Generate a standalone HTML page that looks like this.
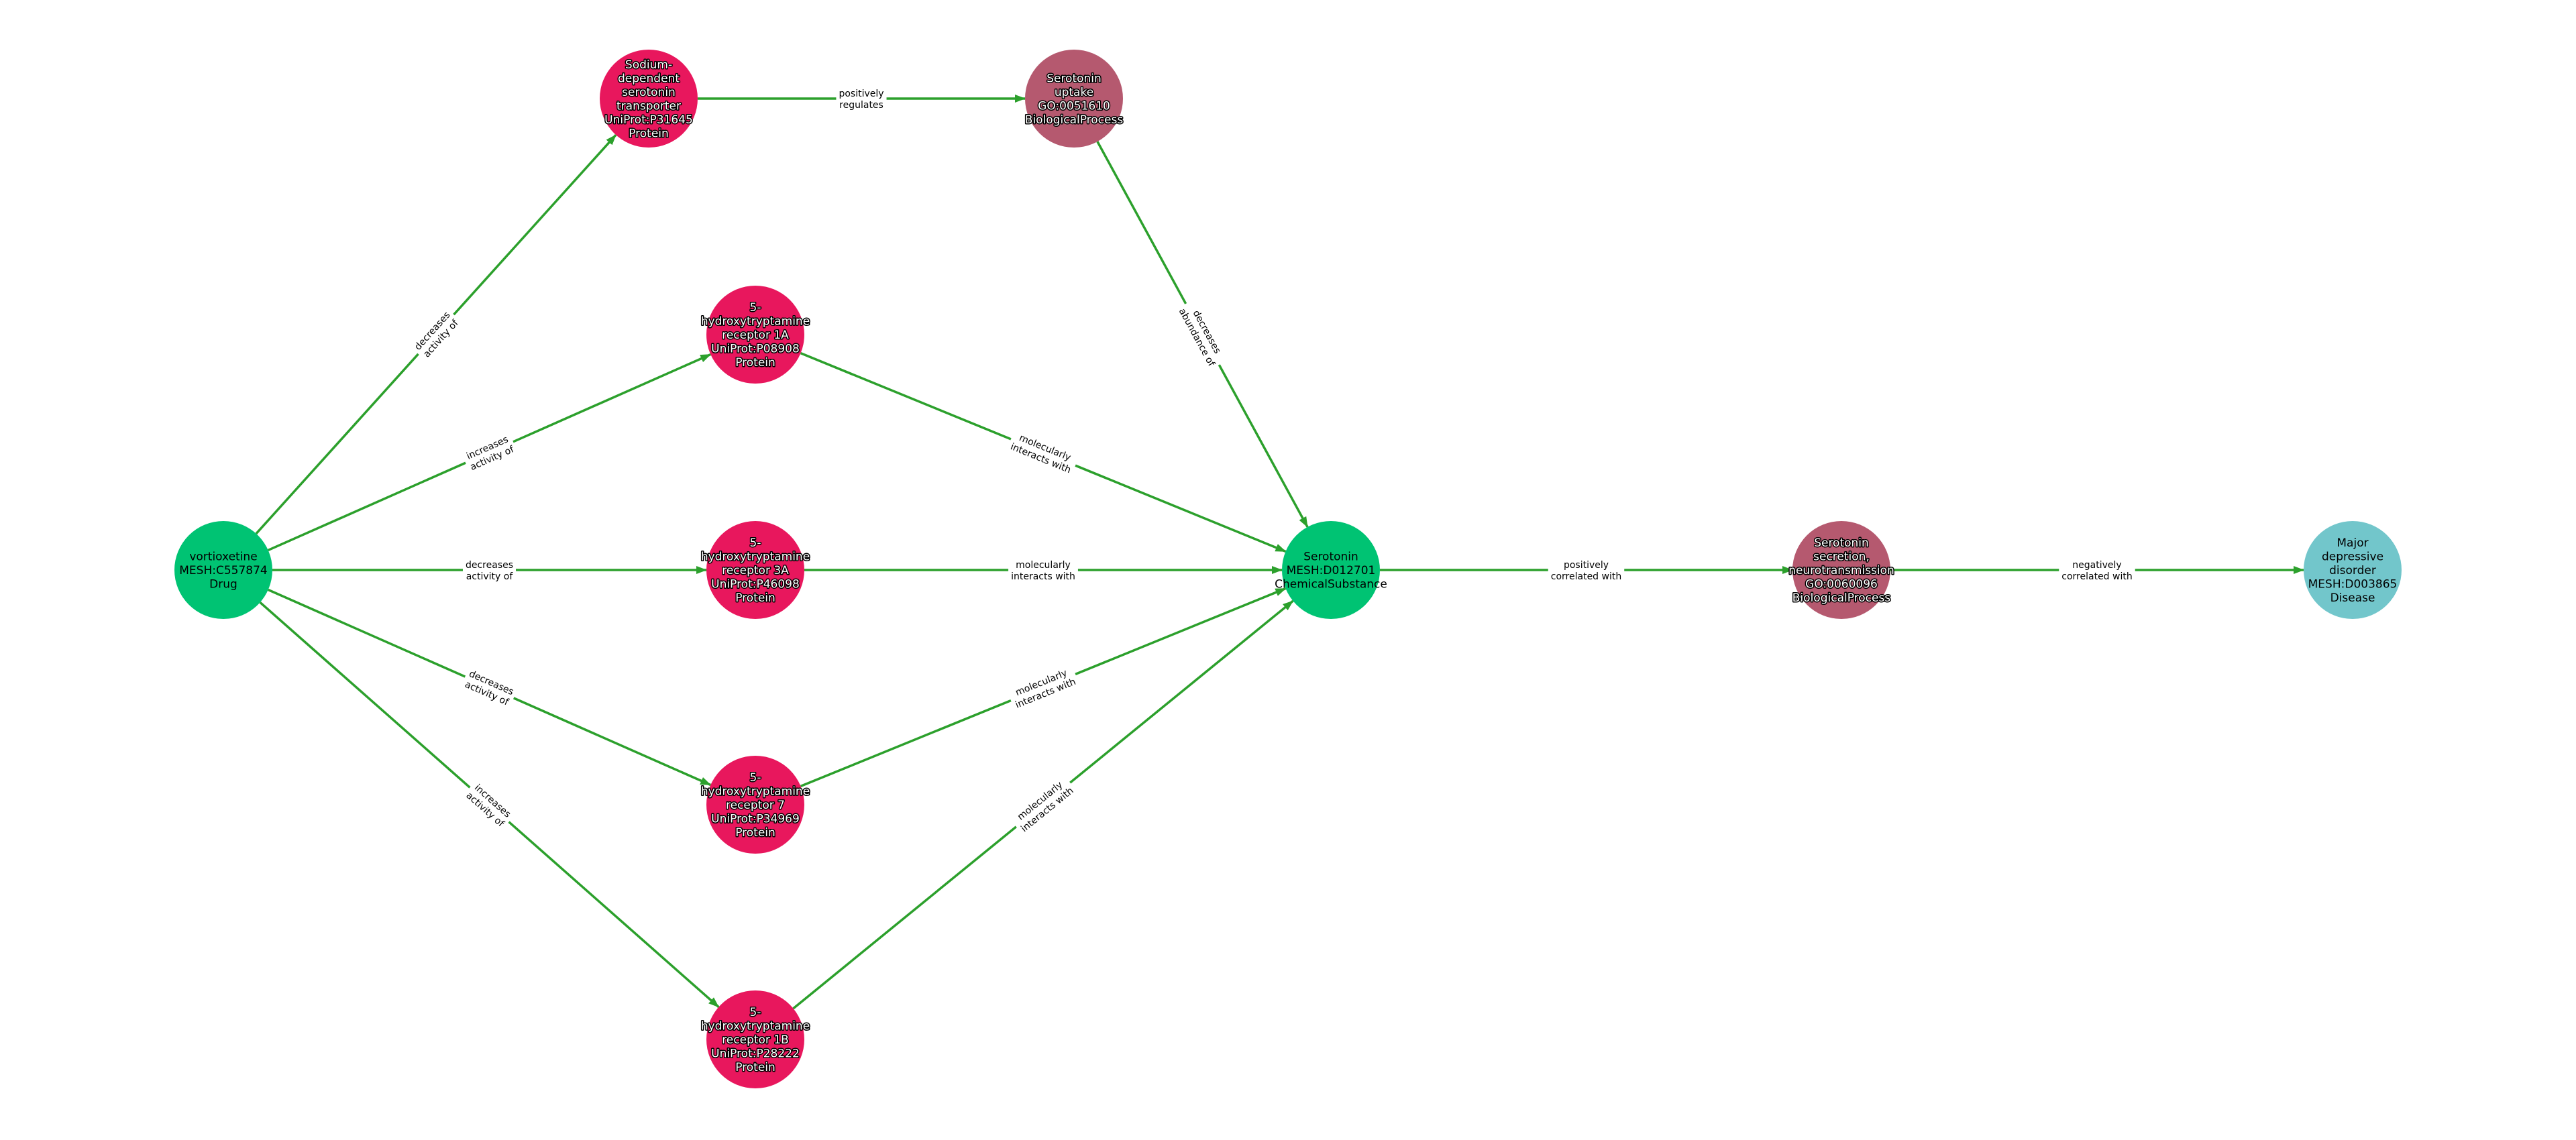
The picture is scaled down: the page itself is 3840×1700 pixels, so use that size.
<!DOCTYPE html>
<html><head><meta charset="utf-8"><style>
html,body{margin:0;padding:0;background:#fff;}
svg{display:block;}
.nt{font-family:"DejaVu Sans","Liberation Sans",sans-serif;font-size:17px;text-anchor:middle;}
.w{fill:#fff;stroke:#000;stroke-width:3px;paint-order:stroke;stroke-linejoin:round;}
.b{fill:#000;}
.el{font-family:"DejaVu Sans","Liberation Sans",sans-serif;font-size:14px;text-anchor:middle;fill:#000;}
</style></head><body>
<svg id="s" width="3840" height="1700" viewBox="0 0 3840 1700" xmlns="http://www.w3.org/2000/svg">
<defs><marker id="a" markerWidth="16" markerHeight="12" refX="15" refY="6" orient="auto" markerUnits="userSpaceOnUse"><path d="M0,0 L16,6 L0,12 z" fill="#2ca02c"/></marker></defs>
<g id="edges"></g><g id="labels"></g><g id="nodes"></g>
</svg>
<script>
var N={
V:[333,850,'#00c373','b',['vortioxetine','MESH:C557874','Drug']],
S:[967,147,'#e8175d','w',['Sodium-','dependent','serotonin','transporter','UniProt:P31645','Protein']],
U:[1601,147,'#b5596f','w',['Serotonin','uptake','GO:0051610','BiologicalProcess']],
A1:[1126,499,'#e8175d','w',['5-','hydroxytryptamine','receptor 1A','UniProt:P08908','Protein']],
A3:[1126,850,'#e8175d','w',['5-','hydroxytryptamine','receptor 3A','UniProt:P46098','Protein']],
R7:[1126,1200,'#e8175d','w',['5-','hydroxytryptamine','receptor 7','UniProt:P34969','Protein']],
B1:[1126,1550,'#e8175d','w',['5-','hydroxytryptamine','receptor 1B','UniProt:P28222','Protein']],
SE:[1984,850,'#00c373','b',['Serotonin','MESH:D012701','ChemicalSubstance']],
SC:[2745,850,'#b5596f','w',['Serotonin','secretion,','neurotransmission','GO:0060096','BiologicalProcess']],
M:[3507,850,'#72c6cb','b',['Major','depressive','disorder','MESH:D003865','Disease']]
};
var E=[['V','S','decreases','activity of'],['V','A1','increases','activity of'],['V','A3','decreases','activity of'],['V','R7','decreases','activity of'],['V','B1','increases','activity of'],
['S','U','positively','regulates'],['U','SE','decreases','abundance of'],['A1','SE','molecularly','interacts with'],['A3','SE','molecularly','interacts with'],['R7','SE','molecularly','interacts with'],['B1','SE','molecularly','interacts with'],
['SE','SC','positively','correlated with'],['SC','M','negatively','correlated with']];
var NS='http://www.w3.org/2000/svg',R=73;
function el(t,a,p){var e=document.createElementNS(NS,t);for(var k in a)e.setAttribute(k,a[k]);p.appendChild(e);return e;}
var ge=document.getElementById('edges'),gl=document.getElementById('labels'),gn=document.getElementById('nodes');
E.forEach(function(e){var a=N[e[0]],b=N[e[1]];var dx=b[0]-a[0],dy=b[1]-a[1],L=Math.hypot(dx,dy),ux=dx/L,uy=dy/L;
el('line',{x1:a[0]+ux*R,y1:a[1]+uy*R,x2:b[0]-ux*R,y2:b[1]-uy*R,stroke:'#2ca02c','stroke-width':3.5,'marker-end':'url(#a)'},ge);
var mx=(a[0]+b[0])/2,my=(a[1]+b[1])/2,ang=Math.atan2(dy,dx)*180/Math.PI;if(ang>90)ang-=180;if(ang<-90)ang+=180;
var g=el('g',{transform:'translate('+mx+','+my+') rotate('+ang+')'},gl);
var r=el('rect',{fill:'#fff'},g);
var t1=el('text',{class:'el',x:0,y:-3},g);t1.textContent=e[2];
var t2=el('text',{class:'el',x:0,y:14},g);t2.textContent=e[3];
var w=Math.max(t1.getComputedTextLength(),t2.getComputedTextLength())+8;
r.setAttribute('x',-w/2);r.setAttribute('y',-19);r.setAttribute('width',w);r.setAttribute('height',38);});
for(var k in N){var n=N[k];el('circle',{cx:n[0],cy:n[1],r:R,fill:n[2]},gn);
var ls=n[4],h=20.5,y0=n[1]-(ls.length-1)*h/2+6;
ls.forEach(function(s,i){var t=el('text',{class:'nt '+n[3],x:n[0],y:y0+i*h},gn);t.textContent=s;});}
</script>
</body></html>
